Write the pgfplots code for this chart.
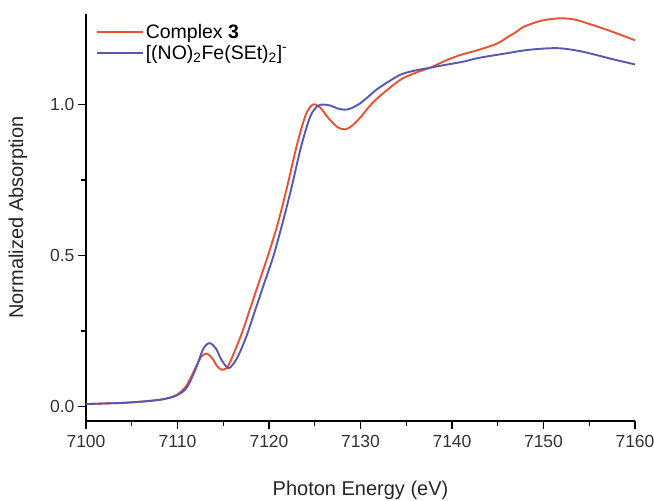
\documentclass[border=0pt]{standalone}
\usepackage{fontspec}
\setmainfont{Liberation Sans}
\usepackage{pgfplots}
\pgfplotsset{compat=1.18}
\definecolor{cred}{RGB}{232,82,48}
\definecolor{cblue}{RGB}{88,88,180}
\begin{document}
\begin{tikzpicture}[x=1pt,y=1pt]
\useasboundingbox (0,0) rectangle (654,501);
\begin{axis}[
  at={(86pt,80pt)}, anchor=south west,
  scale only axis, width=549pt, height=407pt,
  xmin=7100, xmax=7160, ymin=-0.048, ymax=1.30,
  axis x line*=bottom, axis y line*=left,
  axis line style={line width=1.3pt, black},
  xtick={7100,7110,...,7160}, ytick={0,0.5,1.0},
  minor x tick num=1, minor y tick num=1,
  tick align=outside,
  major tick length=8pt, minor tick length=5pt,
  every tick/.style={line width=1.2pt, black},
  /pgf/number format/assume math mode=true,
  xticklabel style={/pgf/number format/.cd, set thousands separator={}, fixed, /tikz/yshift=-3pt},
  yticklabel style={/pgf/number format/.cd, fixed, fixed zerofill, precision=1},
  tick label style={font=\fontsize{17.5}{20}\selectfont, text=black!80},
  xlabel={Photon Energy (eV)},
  ylabel={Normalized Absorption},
  every axis x label/.style={at={(axis description cs:0.5,-0.1695)}, anchor=center},
  every axis y label/.style={at={(axis description cs:-0.1239,0.5)}, rotate=90, anchor=center},
  label style={font=\fontsize{20}{23}\selectfont, text=black!85},
  legend style={at={(0.012,0.985)}, anchor=north west, draw=none, fill=none,
    font=\fontsize{19.5}{23}\selectfont, row sep=1pt},
  legend cell align=left,
  legend image code/.code={\draw[#1, line width=2pt] (0pt,0pt) -- (46pt,0pt);},
]
\addplot[cred, line width=1.9pt, smooth] coordinates {
(7100,0.008) (7102,0.010) (7104,0.012) (7106,0.016) (7108,0.022) (7109,0.028)
(7110,0.040) (7111,0.070) (7112,0.130) (7112.6,0.165) (7113.2,0.175) (7113.8,0.160)
(7114.3,0.135) (7114.8,0.122) (7115.4,0.128) (7116,0.165) (7117,0.24) (7118,0.33)
(7119,0.42) (7120,0.51) (7121,0.61) (7122,0.73) (7123,0.86) (7124,0.965) (7124.8,1.0)
(7125.6,0.99) (7126.5,0.955) (7127.5,0.925) (7128.3,0.918) (7129,0.928) (7130,0.958)
(7131,0.995) (7132,1.025) (7134.3,1.081) (7136,1.105) (7137.6,1.122) (7139.4,1.147)
(7141,1.165) (7143,1.182) (7145,1.203) (7146,1.222) (7147,1.240) (7147.8,1.257)
(7149.3,1.274) (7150.5,1.282) (7152,1.286) (7153.5,1.281) (7155,1.267) (7157,1.247) (7160,1.213)
};
\addlegendentry{Complex \textbf{3}}
\addplot[cblue, line width=1.9pt, smooth] coordinates {
(7100,0.008) (7102,0.010) (7104,0.012) (7106,0.016) (7108,0.022) (7109,0.028)
(7110,0.038) (7111,0.062) (7112,0.125) (7112.8,0.190) (7113.5,0.210) (7114.2,0.192)
(7114.8,0.155) (7115.6,0.127) (7116.5,0.160) (7117.5,0.23) (7118.5,0.32) (7119.5,0.41)
(7120.5,0.50) (7121.5,0.61) (7122.5,0.73) (7123.5,0.86) (7124.5,0.96) (7125.3,0.995)
(7126,1.0) (7126.8,0.996) (7127.5,0.987) (7128.3,0.983) (7129,0.988) (7130,1.005)
(7131,1.03) (7132,1.055) (7134.3,1.098) (7136,1.113) (7137.6,1.122) (7139,1.130)
(7141.2,1.142) (7143,1.155) (7146,1.170) (7148,1.180) (7150.3,1.186) (7152,1.186)
(7154.3,1.175) (7157.6,1.150) (7160,1.133)
};
\addlegendentry{[(NO)\textsubscript{2}Fe(SEt)\textsubscript{2}]\textsuperscript{-}}
\end{axis}
\end{tikzpicture}
\end{document}
